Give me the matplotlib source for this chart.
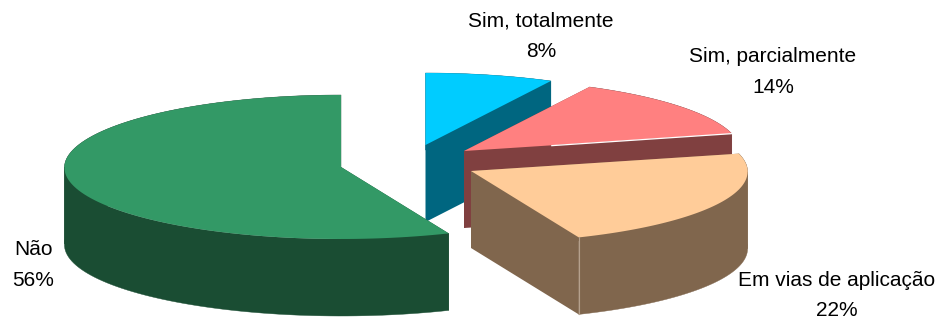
import numpy as np
import matplotlib
matplotlib.use("Agg")
import matplotlib.pyplot as plt
from matplotlib.patches import Polygon

plt.rcParams['font.family'] = ['Liberation Sans', 'DejaVu Sans']

labels = ["Sim, totalmente", "Sim, parcialmente", "Em vias de aplicação", "Não"]
values = [8, 14, 22, 56]
top_colors = ["#00CCFF", "#FF8080", "#FFCC99", "#339966"]
side_colors = ["#006680", "#804040", "#80664D", "#1A4D33"]

# apex of each exploded slice, in pixels
apex_x = [425.5, 464, 471, 341]
apex_y = [145, 151, 171, 167]
label_x = [541, 773, 837, 33]
label_y = [36, 72, 295.5, 265]

rx, ry, depth = 276, 72, 77
persp = 0.065
draw_order = [0, 1, 3, 2]


def rim(cx, cy, a0, a1):
    # angle in degrees, clockwise from 12 o'clock
    t = np.radians(np.linspace(a0, a1, 120))
    yy = -np.cos(t)
    x = cx + rx * np.sin(t) * (1 + persp * yy)
    y = cy + ry * yy - 4 * np.sin(t) ** 2
    return x, y


fig = plt.figure(figsize=(9.43, 3.2), dpi=100)
ax = fig.add_axes([0, 0, 1, 1])
ax.set_xlim(0, 943)
ax.set_ylim(320, 0)
ax.axis("off")

edges = np.concatenate([[0], np.cumsum(values)]) * 3.6

for i in draw_order:
    cx, cy = apex_x[i], apex_y[i]
    x, y = rim(cx, cy, edges[i], edges[i + 1])
    side = side_colors[i]
    # cut faces
    for k in (0, -1):
        face = [(cx, cy), (x[k], y[k]), (x[k], y[k] + depth), (cx, cy + depth)]
        ax.add_patch(Polygon(face, closed=True, fc=side, ec="none"))
    # outer wall, split where the rim turns back in x
    cuts = sorted({0, int(np.argmax(x)), int(np.argmin(x)), len(x) - 1})
    for a, b in zip(cuts[:-1], cuts[1:]):
        xs, ys = x[a:b + 1], y[a:b + 1]
        wall = np.column_stack([np.r_[xs, xs[::-1]], np.r_[ys, ys[::-1] + depth]])
        ax.add_patch(Polygon(wall, closed=True, fc=side, ec=side, lw=0.3))
    # top
    top = np.column_stack([np.r_[cx, x], np.r_[cy, y]])
    ax.add_patch(Polygon(top, closed=True, fc=top_colors[i], ec="none"))
    if i == 1:
        ax.plot([x[-1] - 180, x[-1]], [y[-1] + 12, y[-1]], color="white", lw=0.9)
    if i == 2:
        ax.plot([x[-1], x[-1]], [y[-1], y[-1] + depth], color="#B5A08C", lw=0.8)

for i in range(len(values)):
    ax.text(label_x[i], label_y[i], f"{labels[i]}\n{values[i]}%", ha="center", va="center",
            fontsize=15, color="black", linespacing=1.75)

fig.savefig("out.png", dpi=100)
